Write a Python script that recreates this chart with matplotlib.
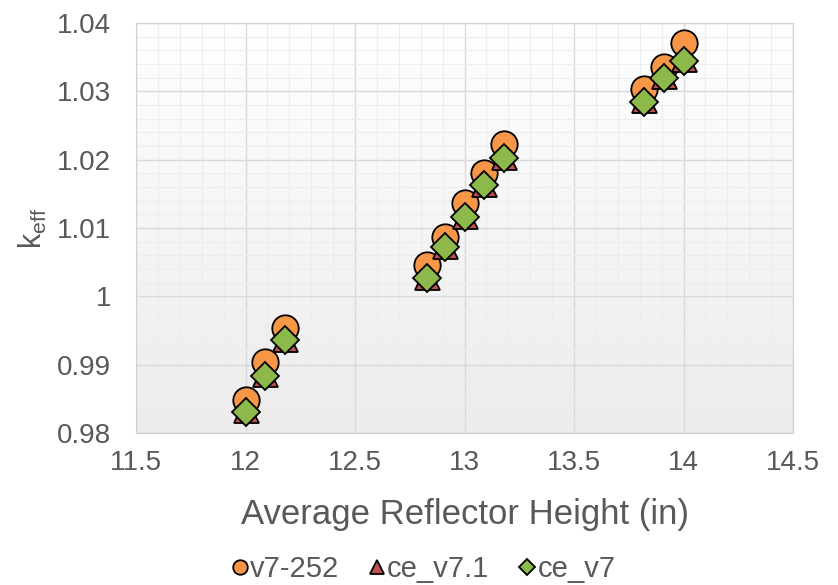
import numpy as np
import matplotlib.pyplot as plt
from matplotlib.ticker import MultipleLocator

plt.rcParams['font.family'] = ['Liberation Sans', 'DejaVu Sans']
plt.rcParams['mathtext.default'] = 'regular'

# Average reflector height (in)
tinggi = [12.0, 12.09, 12.18, 12.83, 12.91, 13.0, 13.09, 13.18, 13.82, 13.91, 14.0]

# k_eff tiap pustaka data
k_v7_252 = [0.9848, 0.9904, 0.9953, 1.0046, 1.0087, 1.0136, 1.0180, 1.0223, 1.0304, 1.0336, 1.0370]
k_ce_v71 = [0.9834, 0.9886, 0.9938, 1.0029, 1.0074, 1.0118, 1.0165, 1.0204, 1.0287, 1.0322, 1.0347]
k_ce_v7 = [0.9831, 0.9883, 0.9936, 1.0027, 1.0072, 1.0116, 1.0163, 1.0202, 1.0284, 1.0320, 1.0345]

abu = '#595959'

fig = plt.figure(figsize=(8.38, 5.85), dpi=100)
ax = fig.add_axes([0.1623, 0.2598, 0.7840, 0.7009])

# latar gradien putih ke abu-abu
grad = np.linspace(1, 0, 256).reshape(-1, 1)
ax.imshow(grad, extent=[0, 1, 0, 1], transform=ax.transAxes, aspect='auto',
          cmap=plt.matplotlib.colors.LinearSegmentedColormap.from_list('g', ['#ececec', '#ffffff']),
          zorder=0)

ax.set_xlim(11.5, 14.5)
ax.set_ylim(0.98, 1.04)
ax.xaxis.set_minor_locator(MultipleLocator(0.1))
ax.yaxis.set_minor_locator(MultipleLocator(0.002))
ax.set_yticks([0.98, 0.99, 1.0, 1.01, 1.02, 1.03, 1.04])
ax.set_yticklabels(['0.98', '0.99', '1', '1.01', '1.02', '1.03', '1.04'])
ax.set_xticks([11.5, 12, 12.5, 13, 13.5, 14, 14.5])
ax.set_xticklabels(['11.5', '12', '12.5', '13', '13.5', '14', '14.5'])

ax.grid(True, which='major', color='#d9d9d9', linewidth=1.0, zorder=1)
ax.grid(True, which='minor', color='#ededed', linewidth=0.8, zorder=1)
ax.set_axisbelow(True)
ax.tick_params(which='both', length=0, labelsize=20, labelcolor=abu)
ax.tick_params(axis='y', pad=18)
ax.tick_params(axis='x', pad=12)
for s in ax.spines.values():
    s.set_color('#d0d0d0')

ax.plot(tinggi, k_v7_252, 'o', ms=19, mfc='#F79646', mec='black', mew=1.3,
        label='v7-252', zorder=3)
ax.plot(tinggi, k_ce_v71, '^', ms=18, mfc='#C0504D', mec='black', mew=1.3,
        label='ce_v7.1', zorder=4)
ax.plot(tinggi, k_ce_v7, 'D', ms=14, mfc='#8DB84A', mec='black', mew=1.3,
        label='ce_v7', zorder=5)

ax.set_xlabel('Average Reflector Height (in)', fontsize=25, color=abu, labelpad=16)
ax.set_ylabel('k$_{eff}$', fontsize=22, color=abu, labelpad=6)

leg = fig.legend(loc='center', bbox_to_anchor=(0.505, 0.027), ncol=3, frameon=False,
                 fontsize=21, handletextpad=0.05, columnspacing=1.0, markerscale=0.55,
                 handlelength=0.6)
for t in leg.get_texts():
    t.set_color(abu)

fig.savefig('out.png', dpi=100)
